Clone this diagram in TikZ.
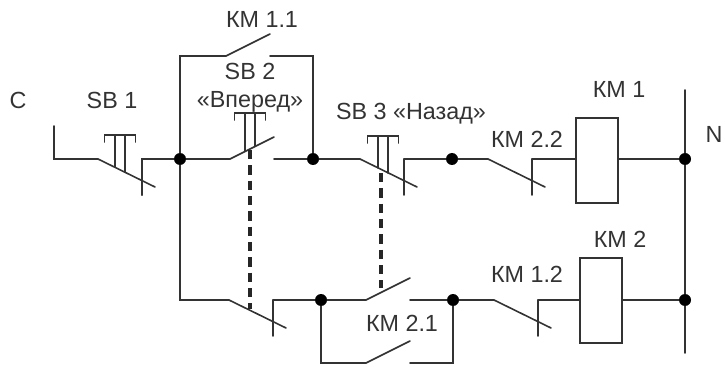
\documentclass[tikz,border=0pt]{standalone}
\usepackage{fontspec}
\setmainfont{Liberation Sans}
\usetikzlibrary{calc,positioning}
\tikzset{
  wire/.style={line width=1.2pt, black!80, line cap=round, line join=miter},
  dotnode/.style={circle, fill=black, inner sep=0pt, minimum size=9pt},
  coil/.style={draw=black!80, line width=1.2pt, fill=white, rectangle, minimum width=31.5pt, minimum height=64pt, inner sep=0pt},
  lbl/.style={inner sep=0pt, font=\fontsize{17.5}{20}\selectfont, text=black!80},
  link/.style={line width=2.3pt, black!85, dash pattern=on 7pt off 4.5pt}
}
\begin{document}
\begin{tikzpicture}[x=0.75pt,y=-0.75pt]
  \useasboundingbox (0,0) rectangle (725,367);

  % Junctions
  \foreach \n/\x/\y in {jA/180/159, jB/313/159, jC/452/159, jD/321/300, jE/453/300, jF/685/159, jG/685/300} {
    \node[dotnode] (\n) at (\x,\y) {};
  }

  % Coils
  \node[coil] (coilA) at (597,160.5) {};
  \node[coil] (coilB) at (601,300.5) {};

  % Normally closed contacts
  \foreach \n/\x/\y in {sbA/98/159, sbC/360/159, kmB/488/159, sbD/229/300, kmC/494/300} {
    \coordinate (\n a) at (\x,\y);
    \coordinate (\n b) at ($(\x,\y)+(57,28)$);
    \coordinate (\n c) at ($(\x,\y)+(44,0)$);
    \coordinate (\n d) at ($(\x,\y)+(44,36)$);
    \draw[wire] (\n a) -- (\n b);
    \draw[wire] (\n d) -- (\n c);
  }

  % Normally open contacts
  \foreach \n/\x/\y in {kmA/226/56, sbB/230/159, kmD/366/300, kmE/366/363} {
    \coordinate (\n a) at (\x,\y);
    \coordinate (\n b) at ($(\x,\y)+(44,-22)$);
    \coordinate (\n c) at ($(\x,\y)+(44,0)$);
    \draw[wire] (\n a) -- (\n b);
  }

  % Push buttons
  \foreach \n/\x/\y/\p/\q in {btnA/120/135/167/172, btnB/250/113/151/146, btnC/383/136/168/173} {
    \draw[wire] ($(\x,\y)+(-15.5,7)$) -- ($(\x,\y)+(-15.5,0)$) -- ($(\x,\y)+(15.5,0)$) -- ($(\x,\y)+(15.5,7)$);
    \draw[wire] ($(\x,\y)+(-5,0)$) -- ($(\x,\p)+(-5,0)$);
    \draw[wire] ($(\x,\y)+(5,0)$) -- ($(\x,\q)+(5,0)$);
  }

  % Rail and free ends
  \coordinate (start) at (54,126);
  \coordinate (railtop) at (685,90);
  \coordinate (railend) at (685,353);
  \draw[wire] (start) |- (sbAa);
  \draw[wire] (railtop) -- (jF) -- (jG) -- (railend);

  % Upper line
  \draw[wire] (sbAd) -- (sbAc) -- (jA) -- (sbBa);
  \draw[wire] (sbBc) -- (jB) -- (sbCa);
  \draw[wire] (sbCc) -- (jC) -- (kmBa);
  \draw[wire] (kmBc) -- (coilA.west |- kmBc);
  \draw[wire] (coilA.east |- jF) -- (jF);

  % Self-holding branch
  \draw[wire] (jA) |- (kmAa);
  \draw[wire] (kmAc) -| (jB);

  % Lower line
  \draw[wire] (jA) |- (sbDa);
  \draw[wire] (sbDc) -- (jD) -- (kmDa);
  \draw[wire] (kmDc) -- (jE) -- (kmCa);
  \draw[wire] (kmCc) -- (coilB.west |- kmCc);
  \draw[wire] (coilB.east |- jG) -- (jG);
  \draw[wire] (jD) |- (kmEa);
  \draw[wire] (kmEc) -| (jE);

  % Mechanical links
  \coordinate (linkAa) at (250,150);
  \coordinate (linkAb) at (250,309);
  \coordinate (linkBa) at (381,173);
  \coordinate (linkBb) at (381,288);
  \draw[link] (linkAa) -- (linkAb);
  \draw[link] (linkBa) -- (linkBb);

  % Labels
  \node[lbl] (lblC) at (18,100) {C};
  \node[lbl] (lblN) at (714,134) {N};
  \node[lbl] (lblSBa) at (112,100) {SB 1};
  \node[lbl] (lblSBb) at (250,71) {SB 2};
  \node[lbl] (lblFwd) at (250,102) {«Вперед»};
  \node[lbl] (lblSBc) at (411,114) {SB 3 «Назад»};
  \node[lbl] (lblKMa) at (262,19) {КМ 1.1};
  \node[lbl] (lblKMb) at (619,89) {КМ 1};
  \node[lbl] (lblKMc) at (527,139) {КМ 2.2};
  \node[lbl] (lblKMd) at (402,323) {КМ 2.1};
  \node[lbl] (lblKMe) at (527,274) {КМ 1.2};
  \node[lbl] (lblKMf) at (620,239) {КМ 2};
\end{tikzpicture}
\end{document}
